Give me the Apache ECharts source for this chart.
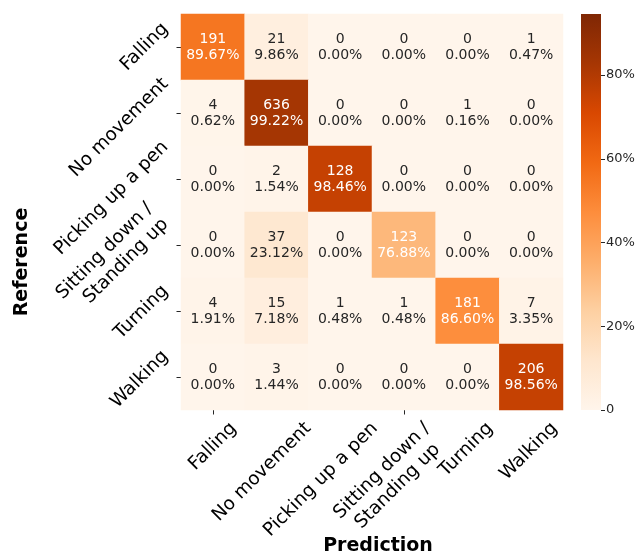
<!DOCTYPE html>
<html>
<head>
<meta charset="utf-8">
<style>
  html, body { margin: 0; padding: 0; background: #ffffff; }
  #chart { width: 643px; height: 553px; }
</style>
<script src="https://cdn.jsdelivr.net/npm/echarts@6/dist/echarts.min.js"></script>
</head>
<body>
<div id="chart"></div>
<script>
// Activity classes (rows = reference, columns = prediction)
const categories = ['Falling', 'No movement', 'Picking up a pen', 'Sitting down /\nStanding up', 'Turning', 'Walking'];

// Sample counts per cell
const counts = [
  [191, 21, 0, 0, 0, 1],
  [4, 636, 0, 0, 1, 0],
  [0, 2, 128, 0, 0, 0],
  [0, 37, 0, 123, 0, 0],
  [4, 15, 1, 1, 181, 7],
  [0, 3, 0, 0, 0, 206]
];

// Row percentages printed in each cell
const percents = [
  [89.67, 9.86, 0.00, 0.00, 0.00, 0.47],
  [0.62, 99.22, 0.00, 0.00, 0.16, 0.00],
  [0.00, 1.54, 98.46, 0.00, 0.00, 0.00],
  [0.00, 23.12, 0.00, 76.88, 0.00, 0.00],
  [1.91, 7.18, 0.48, 0.48, 86.60, 3.35],
  [0.00, 1.44, 0.00, 0.00, 0.00, 98.56]
];

// Cell shading on the colour-bar scale (%)
const shade = [
  [55.0, 4.7, 0, 0, 0, 0.2],
  [0.3, 83.0, 0, 0, 0.1, 0],
  [0, 0.7, 75.7, 0, 0, 0],
  [0, 10.4, 0, 32.0, 0, 0],
  [0.9, 5.2, 0.2, 0.2, 47.0, 1.6],
  [0, 0.7, 0, 0, 0, 75.5]
];

// Colour-bar range and ticks (%)
const colorbarMax = 94.6;
const colorbarTicks = [0, 20, 40, 60, 80];

// Oranges colour ramp
const oranges = ['#fff5eb', '#fee6ce', '#fdd0a2', '#fdae6b', '#fd8d3c', '#f16913', '#d94801', '#a63603', '#7f2704'];

const FONT = '"DejaVu Sans", "Liberation Sans", sans-serif';
const TICK_SIZE = 18.5;
const TICK_LH = 22;

const GRID = { left: 181, top: 14, width: 382, height: 396 };

const measureCtx = document.createElement('canvas').getContext('2d');
measureCtx.font = TICK_SIZE + 'px ' + FONT;
// Width/height of a (possibly multi-line) label before rotation
function labelBox(label) {
  const lines = label.split('\n');
  let w = 0;
  lines.forEach(l => { w = Math.max(w, measureCtx.measureText(l).width); });
  const h = (lines.length - 1) * TICK_LH + TICK_SIZE * 1.16;
  return { w, h };
}

const cells = [];
for (let i = 0; i < categories.length; i++) {
  for (let j = 0; j < categories.length; j++) {
    cells.push({
      value: [j, i, shade[i][j], counts[i][j], percents[i][j]],
      label: { color: i === j ? '#ffffff' : '#262626' }
    });
  }
}

const stops = oranges.map((c, k) => ({ offset: k / (oranges.length - 1), color: c }));

const tickStyle = { show: true, alignWithLabel: true, length: 4.5, lineStyle: { color: '#262626', width: 1 } };

const chart = echarts.init(document.getElementById('chart'), null, { renderer: 'canvas' });
chart.setOption({
  animation: false,
  backgroundColor: '#ffffff',
  textStyle: { fontFamily: FONT },
  grid: [
    Object.assign({ containLabel: false, outerBoundsMode: 'none' }, GRID),
    { left: 581, top: 14, width: 20, height: 396, containLabel: false, outerBoundsMode: 'none' }
  ],
  xAxis: [
    {
      gridIndex: 0,
      type: 'category',
      data: categories,
      axisLine: { show: false },
      axisTick: tickStyle,
      splitLine: { show: false },
      axisLabel: { show: false }
    },
    { gridIndex: 1, type: 'category', data: [''], show: false }
  ],
  yAxis: [
    {
      gridIndex: 0,
      type: 'category',
      inverse: true,
      data: categories,
      axisLine: { show: false },
      axisTick: tickStyle,
      splitLine: { show: false },
      axisLabel: { show: false }
    },
    {
      gridIndex: 1,
      type: 'value',
      position: 'right',
      min: 0,
      max: colorbarMax,
      interval: 20,
      axisLine: { show: false },
      splitLine: { show: false },
      axisLabel: {
        margin: 5, fontSize: 13, color: '#262626', fontFamily: FONT,
        customValues: colorbarTicks,
        formatter: v => (v === 0 ? '0' : v + '%')
      },
      axisTick: { show: true, length: 4, customValues: colorbarTicks, lineStyle: { color: '#262626', width: 1 } }
    }
  ],
  visualMap: {
    show: false,
    type: 'continuous',
    seriesIndex: 0,
    dimension: 2,
    min: 0,
    max: colorbarMax,
    inRange: { color: oranges }
  },
  series: [
    {
      type: 'heatmap',
      xAxisIndex: 0,
      yAxisIndex: 0,
      data: cells,
      itemStyle: { borderWidth: 0 },
      label: {
        show: true,
        fontSize: 14,
        lineHeight: 16,
        fontFamily: FONT,
        formatter: p => p.value[3] + '\n' + p.value[4].toFixed(2) + '%'
      },
      emphasis: { disabled: true }
    },
    {
      type: 'bar',
      xAxisIndex: 1,
      yAxisIndex: 1,
      data: [colorbarMax],
      barWidth: '100%',
      silent: true,
      itemStyle: {
        color: new echarts.graphic.LinearGradient(0, 1, 0, 0, stops)
      }
    }
  ]
});

// Rotated tick labels (45°). Long labels sit a little further back along
// their own direction, so the anchor slides toward the lower-left with length.
const R = Math.SQRT1_2;
const gridBottom = GRID.top + GRID.height;
const labelEls = [];
categories.forEach((c, k) => {
  const b = labelBox(c);
  const span = R * (b.w + b.h);
  const slide = R * Math.max(0, 0.3 * (b.w - 62));
  const font = TICK_SIZE + 'px ' + FONT;

  // bottom axis: box top just under the ticks
  const tx = chart.convertToPixel({ xAxisIndex: 0 }, k);
  labelEls.push({
    type: 'text',
    x: tx - slide, y: gridBottom + 8 + span / 2,
    rotation: Math.PI / 4,
    silent: true,
    style: { text: c, font, lineHeight: TICK_LH, fill: '#000000', align: 'center', verticalAlign: 'middle' }
  });

  // left axis: box right edge just left of the ticks, right-aligned lines
  const ty = chart.convertToPixel({ yAxisIndex: 0 }, k);
  const cx = GRID.left - 8 - span / 2;
  const cy = ty + slide;
  labelEls.push({
    type: 'text',
    x: cx + R * b.w / 2, y: cy - R * b.w / 2,
    rotation: Math.PI / 4,
    silent: true,
    style: { text: c, font, lineHeight: TICK_LH, fill: '#000000', align: 'right', verticalAlign: 'middle' }
  });
});

labelEls.push(
  {
    type: 'text',
    x: 22, y: 262,
    rotation: Math.PI / 2,
    style: { text: 'Reference', font: 'bold 19px ' + FONT, fill: '#000000', align: 'center', verticalAlign: 'middle' }
  },
  {
    type: 'text',
    x: 378, y: 546,
    style: { text: 'Prediction', font: 'bold 19px ' + FONT, fill: '#000000', align: 'center', verticalAlign: 'middle' }
  }
);

chart.setOption({ graphic: labelEls });
</script>
</body>
</html>
